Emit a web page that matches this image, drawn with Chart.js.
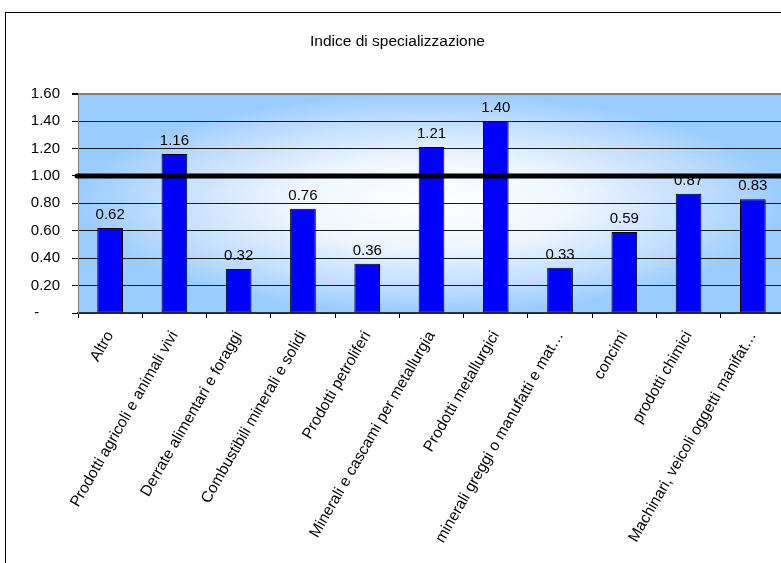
<!DOCTYPE html>
<html lang="it">
<head>
    <meta charset="UTF-8">
    <title>Indice di specializzazione</title>
    <script src="https://cdn.jsdelivr.net/npm/chart.js"></script>
    <style>
        html, body { margin: 0; padding: 0; overflow: hidden; background: #fff; }
    </style>
</head>
<body>
    <canvas id="myChart" width="800" height="580"></canvas>

    <script>
        // Categorie merceologiche e indice per ciascuna
        const categorie = [
            'Altro',
            'Prodotti agricoli e animali vivi',
            'Derrate alimentari e foraggi',
            'Combustibili minerali e solidi',
            'Prodotti petroliferi',
            'Minerali e cascami per metallurgia',
            'Prodotti metallurgici',
            'minerali greggi o manufatti e mat…',
            'concimi',
            'prodotti chimici',
            'Machinari, veicoli oggetti manifat…'
        ];
        const indice = [0.62, 1.16, 0.32, 0.76, 0.36, 1.21, 1.40, 0.33, 0.59, 0.87, 0.83];

        // asse y: 0 - 1.60, passo 0.20; linea di riferimento a 1
        const yMin = 0;
        const yMax = 1.6;
        const yStep = 0.2;
        const livelloRiferimento = 1;

        const fontFamily = '"Liberation Sans", Arial, sans-serif';
        Chart.defaults.font.family = fontFamily;
        Chart.defaults.font.size = 15;
        Chart.defaults.color = '#000';

        // cornice esterna e sfondo sfumato dell'area del grafico
        const sfondo = {
            id: 'sfondo',
            beforeDraw(chart) {
                const { ctx, chartArea: a } = chart;
                ctx.save();
                ctx.fillStyle = '#fff';
                ctx.fillRect(0, 0, chart.width, chart.height);
                ctx.strokeStyle = '#000';
                ctx.lineWidth = 1;
                ctx.strokeRect(5.5, 12.5, 900, 700);

                const cx = (a.left + a.right) / 2;
                const cy = (a.top + a.bottom) / 2;
                const hw = (a.right - a.left) / 2;
                const hh = (a.bottom - a.top) / 2;
                ctx.translate(cx, cy);
                ctx.scale(hw, hh);
                const g = ctx.createRadialGradient(0, 0, 0, 0, 0, 1);
                g.addColorStop(0, '#ffffff');
                g.addColorStop(0.4, '#eef6ff');
                g.addColorStop(0.8, '#bcdbff');
                g.addColorStop(1, '#99ccff');
                ctx.fillStyle = g;
                ctx.fillRect(-1, -1, 2, 2);
                ctx.restore();
            }
        };

        // etichette dei valori sopra le barre, poi la linea spessa a 1.00
        const etichette = {
            id: 'etichette',
            afterDatasetsDraw(chart) {
                const { ctx, chartArea: a } = chart;
                const meta = chart.getDatasetMeta(0);
                ctx.save();
                ctx.fillStyle = '#000';
                ctx.font = '15px ' + fontFamily;
                ctx.textAlign = 'center';
                ctx.textBaseline = 'alphabetic';
                meta.data.forEach((bar, i) => {
                    ctx.fillText(indice[i].toFixed(2), bar.x, bar.y - 9);
                });

                const y = chart.scales.y.getPixelForValue(livelloRiferimento);
                ctx.strokeStyle = '#000';
                ctx.lineWidth = 5;
                ctx.lineCap = 'round';
                ctx.beginPath();
                ctx.moveTo(a.left - 1, y);
                ctx.lineTo(a.right, y);
                ctx.stroke();
                ctx.restore();
            }
        };

        const ctx = document.getElementById('myChart').getContext('2d');

        new Chart(ctx, {
            type: 'bar',
            data: {
                labels: categorie,
                datasets: [{
                    label: 'Indice di specializzazione',
                    data: indice,
                    backgroundColor: '#0000ff',
                    borderColor: '#000',
                    borderWidth: 1,
                    borderSkipped: false,
                    barPercentage: 0.4,
                    categoryPercentage: 1
                }]
            },
            options: {
                responsive: false,
                animation: false,
                devicePixelRatio: 1,
                layout: {
                    padding: { left: 10, right: 15, top: 32, bottom: 0 }
                },
                plugins: {
                    legend: { display: false },
                    tooltip: { enabled: false },
                    title: {
                        display: true,
                        text: 'Indice di specializzazione',
                        color: '#000',
                        font: { size: 15.5, weight: 'normal', lineHeight: 1.2 },
                        padding: { top: 0, bottom: 43 }
                    }
                },
                scales: {
                    x: {
                        afterFit(scale) { scale.height = 267; },
                        grid: {
                            drawOnChartArea: false,
                            drawTicks: true,
                            tickLength: 5,
                            tickColor: '#000'
                        },
                        border: { color: '#333', width: 1.5 },
                        ticks: {
                            autoSkip: false,
                            minRotation: 60,
                            maxRotation: 60,
                            padding: 10,
                            color: '#000',
                            font: { size: 15.5 }
                        }
                    },
                    y: {
                        min: yMin,
                        max: yMax,
                        afterFit(scale) { scale.width = 68; },
                        grid: {
                            color: c => Math.abs(c.tick.value - yMax) < 1e-9 ? '#808080' : '#1a1a1a',
                            lineWidth: c => Math.abs(c.tick.value - yMax) < 1e-9 ? 2 : 1,
                            drawTicks: true,
                            tickLength: 6,
                            tickColor: '#000'
                        },
                        border: { color: '#808080', width: 1 },
                        ticks: {
                            stepSize: yStep,
                            padding: 12,
                            color: '#000',
                            font: { size: 15 },
                            callback: v => Math.abs(v) < 1e-9 ? '-     ' : v.toFixed(2)
                        }
                    }
                }
            },
            plugins: [sfondo, etichette]
        });
    </script>
</body>
</html>
